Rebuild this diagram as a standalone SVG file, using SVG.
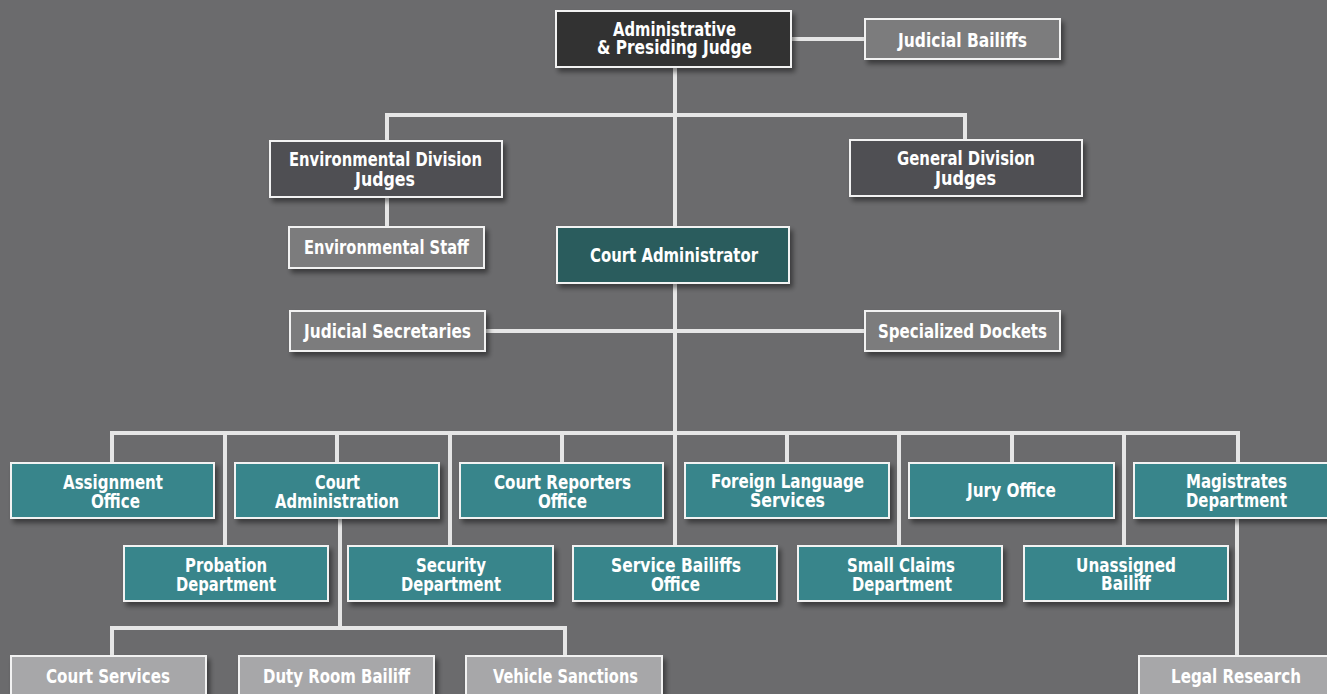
<svg xmlns="http://www.w3.org/2000/svg" width="1327" height="694" viewBox="0 0 1327 694">
  <defs>
    <filter id="shadow" x="-10%" y="-20%" width="130%" height="160%">
      <feDropShadow dx="3" dy="4" stdDeviation="2.5" flood-color="#000" flood-opacity="0.45"/>
    </filter>
    <style>
      .box { stroke: #f2f2f2; stroke-width: 2; filter: url(#shadow); }
      .dark { fill: #333233; }
      .mid { fill: #505052; }
      .grey { fill: #7b7b7d; }
      .head { fill: #2b5b5d; }
      .teal { fill: #38858b; }
      .light { fill: #a7a7a9; }
      .lbl { font-family: "DejaVu Sans Condensed", "Liberation Sans Narrow", "Liberation Sans", sans-serif; font-stretch: condensed; font-weight: bold; font-size: 19px; fill: #ffffff; text-anchor: middle; }
      .wire { fill: none; stroke: #e6e6e6; stroke-width: 4; }
    </style>
  </defs>

  <rect x="0" y="0" width="1327" height="694" fill="#6b6b6d"/>

  <!-- connectors -->
  <g id="connectors" class="wire">
    <path d="M791 39 H865"/>
    <path d="M675 67 V433"/>
    <path d="M387 141 V115 H965 V140"/>
    <path d="M387 197 V227"/>
    <path d="M485 331 H865"/>
    <path d="M112 463 V433 H1238 V463"/>
    <path d="M225 433 V546"/>
    <path d="M337 433 V463"/>
    <path d="M450 433 V546"/>
    <path d="M562 433 V463"/>
    <path d="M675 433 V546"/>
    <path d="M787 433 V463"/>
    <path d="M899 433 V546"/>
    <path d="M1012 433 V463"/>
    <path d="M1124 433 V546"/>
    <path d="M340 518 V628"/>
    <path d="M112 656 V628 H565 V656"/>
    <path d="M1237 518 V656"/>
  </g>

  <g id="n-presiding">
    <rect class="box dark" x="556" y="11" width="235" height="56"/>
    <text class="lbl" x="674.5" y="36" textLength="123" lengthAdjust="spacingAndGlyphs">Administrative</text>
    <text class="lbl" x="674.5" y="54" textLength="155" lengthAdjust="spacingAndGlyphs">&amp; Presiding Judge</text>
  </g>
  <g id="n-judicial-bailiffs">
    <rect class="box grey" x="865" y="19" width="195" height="40"/>
    <text class="lbl" x="962.5" y="47" textLength="129" lengthAdjust="spacingAndGlyphs">Judicial Bailiffs</text>
  </g>
  <g id="n-env-judges">
    <rect class="box mid" x="270" y="141" width="232" height="56"/>
    <text class="lbl" x="385.5" y="166" textLength="193" lengthAdjust="spacingAndGlyphs">Environmental Division</text>
    <text class="lbl" x="385" y="186" textLength="60" lengthAdjust="spacingAndGlyphs">Judges</text>
  </g>
  <g id="n-gen-judges">
    <rect class="box mid" x="850" y="140" width="232" height="56"/>
    <text class="lbl" x="966" y="165" textLength="138" lengthAdjust="spacingAndGlyphs">General Division</text>
    <text class="lbl" x="965.5" y="185" textLength="61" lengthAdjust="spacingAndGlyphs">Judges</text>
  </g>
  <g id="n-env-staff">
    <rect class="box grey" x="289" y="227" width="195" height="41"/>
    <text class="lbl" x="386.5" y="254" textLength="165" lengthAdjust="spacingAndGlyphs">Environmental Staff</text>
  </g>
  <g id="n-court-administrator">
    <rect class="box head" x="557" y="227" width="232" height="56"/>
    <text class="lbl" x="674" y="262" textLength="168" lengthAdjust="spacingAndGlyphs">Court Administrator</text>
  </g>
  <g id="n-judicial-secretaries">
    <rect class="box grey" x="290" y="311" width="195" height="40"/>
    <text class="lbl" x="387.5" y="338" textLength="167" lengthAdjust="spacingAndGlyphs">Judicial Secretaries</text>
  </g>
  <g id="n-specialized-dockets">
    <rect class="box grey" x="865" y="311" width="195" height="40"/>
    <text class="lbl" x="962.5" y="338" textLength="169" lengthAdjust="spacingAndGlyphs">Specialized Dockets</text>
  </g>

  <!-- departments, upper row -->
  <g id="n-assignment">
    <rect class="box teal" x="11" y="463" width="203" height="55"/>
    <text class="lbl" x="113" y="489" textLength="100" lengthAdjust="spacingAndGlyphs">Assignment</text>
    <text class="lbl" x="115.5" y="508" textLength="49" lengthAdjust="spacingAndGlyphs">Office</text>
  </g>
  <g id="n-court-administration">
    <rect class="box teal" x="235" y="463" width="204" height="55"/>
    <text class="lbl" x="337.5" y="489" textLength="45" lengthAdjust="spacingAndGlyphs">Court</text>
    <text class="lbl" x="337" y="508" textLength="124" lengthAdjust="spacingAndGlyphs">Administration</text>
  </g>
  <g id="n-court-reporters">
    <rect class="box teal" x="460" y="463" width="203" height="55"/>
    <text class="lbl" x="562.5" y="489" textLength="137" lengthAdjust="spacingAndGlyphs">Court Reporters</text>
    <text class="lbl" x="562.5" y="508" textLength="49" lengthAdjust="spacingAndGlyphs">Office</text>
  </g>
  <g id="n-foreign-language">
    <rect class="box teal" x="685" y="463" width="204" height="55"/>
    <text class="lbl" x="787.5" y="488" textLength="153" lengthAdjust="spacingAndGlyphs">Foreign Language</text>
    <text class="lbl" x="787.5" y="507" textLength="75" lengthAdjust="spacingAndGlyphs">Services</text>
  </g>
  <g id="n-jury">
    <rect class="box teal" x="909" y="463" width="205" height="55"/>
    <text class="lbl" x="1011.5" y="497" textLength="89" lengthAdjust="spacingAndGlyphs">Jury Office</text>
  </g>
  <g id="n-magistrates">
    <rect class="box teal" x="1134" y="463" width="200" height="55"/>
    <text class="lbl" x="1236.5" y="488" textLength="101" lengthAdjust="spacingAndGlyphs">Magistrates</text>
    <text class="lbl" x="1236.5" y="507" textLength="101" lengthAdjust="spacingAndGlyphs">Department</text>
  </g>

  <!-- departments, lower row -->
  <g id="n-probation">
    <rect class="box teal" x="124" y="546" width="204" height="55"/>
    <text class="lbl" x="226" y="572" textLength="82" lengthAdjust="spacingAndGlyphs">Probation</text>
    <text class="lbl" x="226" y="591" textLength="100" lengthAdjust="spacingAndGlyphs">Department</text>
  </g>
  <g id="n-security">
    <rect class="box teal" x="348" y="546" width="205" height="55"/>
    <text class="lbl" x="451" y="572" textLength="70" lengthAdjust="spacingAndGlyphs">Security</text>
    <text class="lbl" x="451" y="591" textLength="100" lengthAdjust="spacingAndGlyphs">Department</text>
  </g>
  <g id="n-service-bailiffs">
    <rect class="box teal" x="573" y="546" width="204" height="55"/>
    <text class="lbl" x="676" y="572" textLength="130" lengthAdjust="spacingAndGlyphs">Service Bailiffs</text>
    <text class="lbl" x="675.5" y="591" textLength="49" lengthAdjust="spacingAndGlyphs">Office</text>
  </g>
  <g id="n-small-claims">
    <rect class="box teal" x="798" y="546" width="204" height="55"/>
    <text class="lbl" x="901" y="572" textLength="108" lengthAdjust="spacingAndGlyphs">Small Claims</text>
    <text class="lbl" x="902" y="591" textLength="100" lengthAdjust="spacingAndGlyphs">Department</text>
  </g>
  <g id="n-unassigned">
    <rect class="box teal" x="1024" y="546" width="204" height="55"/>
    <text class="lbl" x="1126" y="572" textLength="100" lengthAdjust="spacingAndGlyphs">Unassigned</text>
    <text class="lbl" x="1126" y="590" textLength="50" lengthAdjust="spacingAndGlyphs">Bailiff</text>
  </g>

  <!-- units under court administration and magistrates -->
  <g id="n-court-services">
    <rect class="box light" x="11" y="656" width="195" height="45"/>
    <text class="lbl" x="108" y="683" textLength="124" lengthAdjust="spacingAndGlyphs">Court Services</text>
  </g>
  <g id="n-duty-room">
    <rect class="box light" x="239" y="656" width="195" height="45"/>
    <text class="lbl" x="336.5" y="683" textLength="147" lengthAdjust="spacingAndGlyphs">Duty Room Bailiff</text>
  </g>
  <g id="n-vehicle-sanctions">
    <rect class="box light" x="466" y="656" width="196" height="45"/>
    <text class="lbl" x="565.5" y="683" textLength="145" lengthAdjust="spacingAndGlyphs">Vehicle Sanctions</text>
  </g>
  <g id="n-legal-research">
    <rect class="box light" x="1139" y="656" width="195" height="45"/>
    <text class="lbl" x="1236" y="683" textLength="130" lengthAdjust="spacingAndGlyphs">Legal Research</text>
  </g>
</svg>
